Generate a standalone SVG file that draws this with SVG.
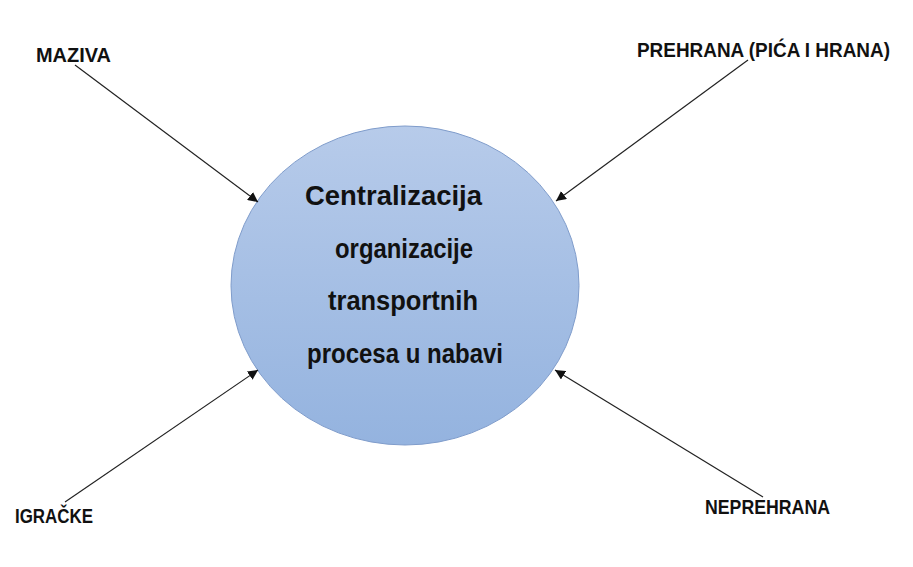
<svg xmlns="http://www.w3.org/2000/svg" width="913" height="567" viewBox="0 0 913 567">
  <defs>
    <linearGradient id="fillGrad" x1="0" y1="0" x2="0" y2="1">
      <stop offset="0" stop-color="#b7cbea"/>
      <stop offset="1" stop-color="#94b3df"/>
    </linearGradient>
    <marker id="arrow" viewBox="0 0 10 10" refX="10" refY="5" markerWidth="10" markerHeight="10" markerUnits="userSpaceOnUse" orient="auto">
      <path d="M0,0 L10,5 L0,10 z" fill="#111"/>
    </marker>
    <style>
      .label { font-family: "Liberation Sans", Arial, sans-serif; font-weight: bold; font-size: 20px; fill: #111; }
      .center { font-family: "Liberation Sans", Arial, sans-serif; font-weight: bold; font-size: 27px; fill: #111; text-anchor: middle; }
      .conn { stroke: #222; stroke-width: 1.2; fill: none; marker-end: url(#arrow); }
    </style>
  </defs>
  <rect width="913" height="567" fill="#ffffff"/>

  <g id="center-node">
    <ellipse cx="405" cy="285.5" rx="174" ry="159.5" fill="url(#fillGrad)" stroke="#7f9ccb" stroke-width="1"/>
    <text class="center" x="393.5" y="205" textLength="177" lengthAdjust="spacingAndGlyphs">Centralizacija</text>
    <text class="center" x="404" y="258" textLength="138" lengthAdjust="spacingAndGlyphs">organizacije</text>
    <text class="center" x="403" y="310" textLength="150" lengthAdjust="spacingAndGlyphs">transportnih</text>
    <text class="center" x="405" y="363" textLength="196" lengthAdjust="spacingAndGlyphs">procesa u nabavi</text>
  </g>

  <g id="node-maziva">
    <text class="label" x="36" y="62" textLength="75" lengthAdjust="spacingAndGlyphs">MAZIVA</text>
  </g>
  <g id="node-prehrana">
    <text class="label" x="637" y="57" textLength="253" lengthAdjust="spacingAndGlyphs">PREHRANA (PIĆA I HRANA)</text>
  </g>
  <g id="node-igracke">
    <text class="label" x="15" y="523" textLength="78" lengthAdjust="spacingAndGlyphs">IGRAČKE</text>
  </g>
  <g id="node-neprehrana">
    <text class="label" x="705" y="514" textLength="125" lengthAdjust="spacingAndGlyphs">NEPREHRANA</text>
  </g>

  <g id="connectors">
    <line class="conn" x1="75" y1="65" x2="258" y2="202"/>
    <line class="conn" x1="748" y1="60" x2="556" y2="201"/>
    <line class="conn" x1="65" y1="502" x2="258" y2="370"/>
    <line class="conn" x1="763" y1="497" x2="555" y2="370"/>
  </g>
</svg>
